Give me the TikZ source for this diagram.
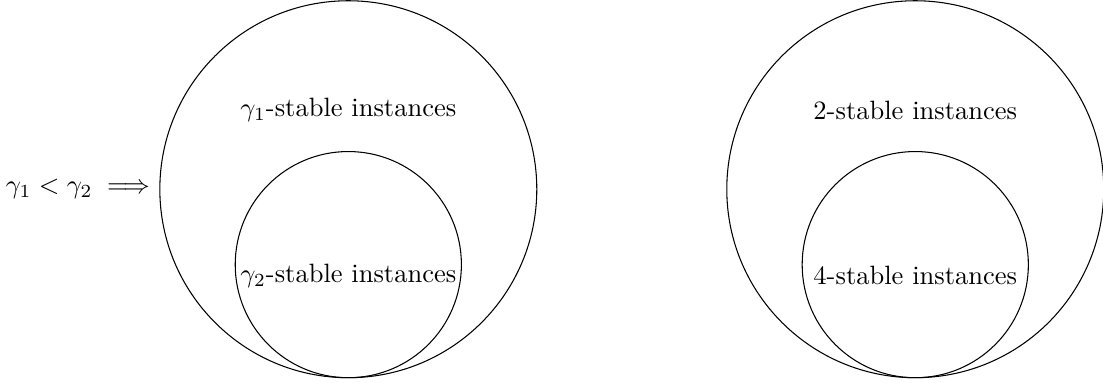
\documentclass[tikz,border=0pt]{standalone}
\usepackage{amsmath}
\begin{document}
\begin{tikzpicture}[
  ring/.style={draw, circle, inner sep=0pt},
  lbl/.style={inner sep=0pt}
]
\useasboundingbox (-4.62,-2.57) rectangle (10.01,2.51);
% left pair
\node[ring, minimum size=5cm] (bigL) at (0,0) {};
\node[ring, minimum size=3cm] (smallL) at (0,-1) {};
\node[lbl] (tL1) at (0,1.05) {$\gamma_1$-stable instances};
\node[lbl] (tL2) at (0,-1.15) {$\gamma_2$-stable instances};
\node[anchor=east] (impl) at (bigL.west) {$\gamma_1 < \gamma_2 \;\Longrightarrow$};
% right pair
\node[ring, minimum size=5cm] (bigR) at (7.52,0) {};
\node[ring, minimum size=3cm] (smallR) at (7.52,-1) {};
\node[lbl] (tR1) at (7.52,1.05) {2-stable instances};
\node[lbl] (tR2) at (7.52,-1.15) {4-stable instances};
\end{tikzpicture}
\end{document}
